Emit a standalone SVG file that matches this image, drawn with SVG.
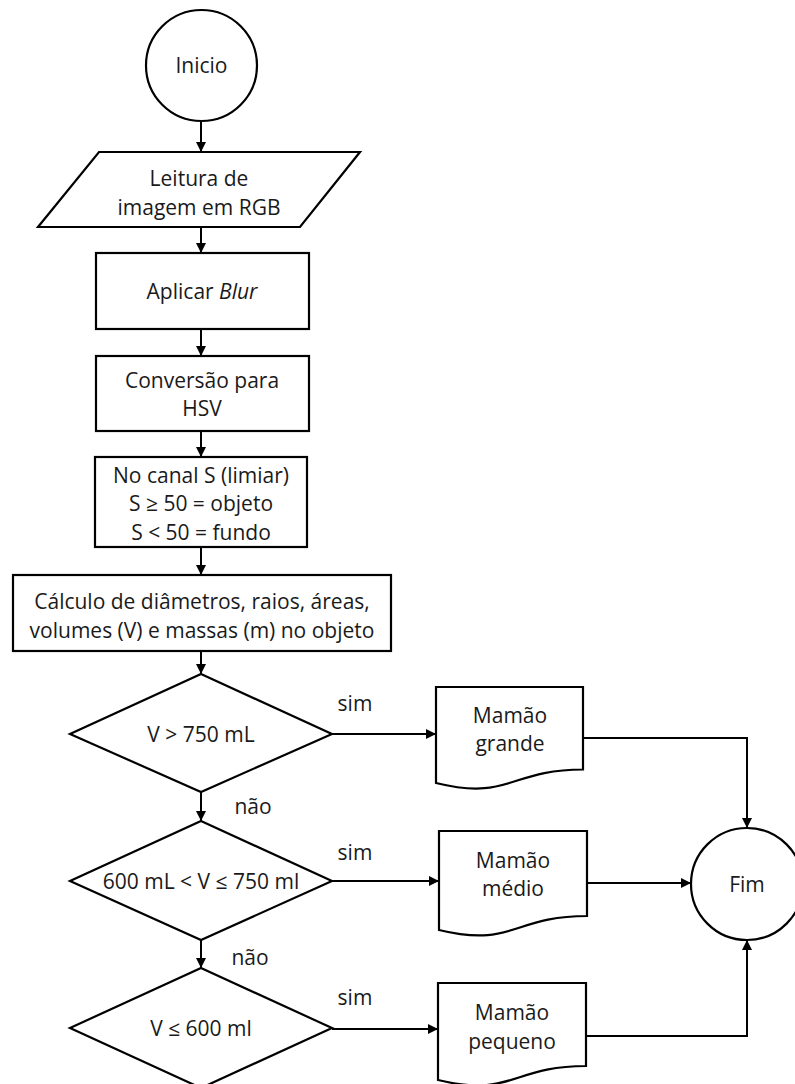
<svg xmlns="http://www.w3.org/2000/svg" width="795" height="1084" viewBox="0 0 795 1084">
  <style>
    .shape { fill: #ffffff; stroke: #000000; stroke-width: 2.2; }
    .edge { fill: none; stroke: #000000; stroke-width: 2; }
    text { font-family: "Open Sans", "Liberation Sans", sans-serif; font-size: 21px; fill: #1a1a1a; text-anchor: middle; dominant-baseline: central; }
  </style>
  <defs>
    <marker id="arrow" viewBox="0 0 10 10" refX="10" refY="5" markerWidth="5" markerHeight="5" markerUnits="strokeWidth" orient="auto">
      <path d="M0,0 L10,5 L0,10 Z" fill="#000000"/>
    </marker>
  </defs>
  <rect width="795" height="1084" fill="#ffffff"/>

  <!-- connectors -->
  <g id="connectors">
    <path class="edge" d="M201,121 V152" marker-end="url(#arrow)"/>
    <path class="edge" d="M201,227 V253" marker-end="url(#arrow)"/>
    <path class="edge" d="M201,329 V356" marker-end="url(#arrow)"/>
    <path class="edge" d="M201,431 V457" marker-end="url(#arrow)"/>
    <path class="edge" d="M201,547 V575" marker-end="url(#arrow)"/>
    <path class="edge" d="M201,651 V674" marker-end="url(#arrow)"/>
    <path class="edge" d="M201,792 V821" marker-end="url(#arrow)"/>
    <path class="edge" d="M201,940 V968" marker-end="url(#arrow)"/>
    <path class="edge" d="M332,734 H436" marker-end="url(#arrow)"/>
    <path class="edge" d="M332,881 H439" marker-end="url(#arrow)"/>
    <path class="edge" d="M332,1029 H438" marker-end="url(#arrow)"/>
    <path class="edge" d="M583,738 H747 V828" marker-end="url(#arrow)"/>
    <path class="edge" d="M587,883 H691" marker-end="url(#arrow)"/>
    <path class="edge" d="M586,1036 H747 V940" marker-end="url(#arrow)"/>
    <text x="355" y="703">sim</text>
    <text x="253" y="806">não</text>
    <text x="355" y="852">sim</text>
    <text x="250" y="957">não</text>
    <text x="355" y="997">sim</text>
  </g>

  <!-- nodes -->
  <g id="inicio">
    <circle class="shape" cx="201.5" cy="65.5" r="55.5"/>
    <text x="201.5" y="65">Inicio</text>
  </g>
  <g id="leitura">
    <path class="shape" d="M99,152 H360 L300,227 H38 Z"/>
    <text x="199" y="178">Leitura de</text>
    <text x="199" y="207">imagem em RGB</text>
  </g>
  <g id="blur">
    <rect class="shape" x="96" y="253" width="213" height="76"/>
    <text x="202" y="291">Aplicar <tspan font-style="italic">Blur</tspan></text>
  </g>
  <g id="hsv">
    <rect class="shape" x="96" y="356" width="213" height="75"/>
    <text x="202" y="380">Conversão para</text>
    <text x="202" y="408">HSV</text>
  </g>
  <g id="limiar">
    <rect class="shape" x="95" y="457" width="212" height="90"/>
    <text x="201" y="475">No canal S (limiar)</text>
    <text x="201" y="503">S ≥ 50 = objeto</text>
    <text x="201" y="532">S &lt; 50 = fundo</text>
  </g>
  <g id="calculo">
    <rect class="shape" x="13" y="575" width="378" height="76"/>
    <text x="202" y="601">Cálculo de diâmetros, raios, áreas,</text>
    <text x="202" y="630">volumes (V) e massas (m) no objeto</text>
  </g>
  <g id="decisao-grande">
    <path class="shape" d="M201,674 L332,734 L201,792 L70,734 Z"/>
    <text x="201" y="734">V &gt; 750 mL</text>
  </g>
  <g id="decisao-medio">
    <path class="shape" d="M201,821 L332,881 L201,940 L70,881 Z"/>
    <text x="201" y="881">600 mL &lt; V ≤ 750 ml</text>
  </g>
  <g id="decisao-pequeno">
    <path class="shape" d="M201,968 L332,1028 L201,1088 L70,1028 Z"/>
    <text x="201" y="1028">V ≤ 600 ml</text>
  </g>
  <g id="mamao-grande">
    <path class="shape" d="M436,687 H583 V769.5 C509.5,769.5 509.5,801 436,783 Z"/>
    <text x="510" y="715">Mamão</text>
    <text x="510" y="743">grande</text>
  </g>
  <g id="mamao-medio">
    <path class="shape" d="M439,831 H587 V916 C513,916 513,948 439,930 Z"/>
    <text x="513" y="860">Mamão</text>
    <text x="513" y="888">médio</text>
  </g>
  <g id="mamao-pequeno">
    <path class="shape" d="M438,983 H586 V1066 C512,1066 512,1098 438,1080 Z"/>
    <text x="512" y="1012">Mamão</text>
    <text x="512" y="1041">pequeno</text>
  </g>
  <g id="fim">
    <circle class="shape" cx="747" cy="884" r="56"/>
    <text x="747" y="884">Fim</text>
  </g>
</svg>
